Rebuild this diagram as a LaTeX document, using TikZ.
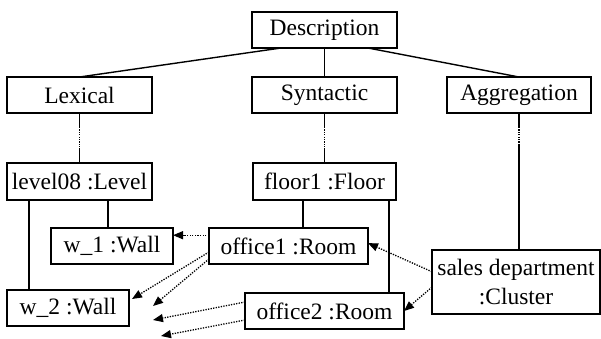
\documentclass[tikz,border=0pt]{standalone}
\usepackage{fontspec}
\setmainfont{Liberation Serif}
\usetikzlibrary{arrows.meta,calc}
\begin{document}
\begin{tikzpicture}[x=1pt,y=-1pt,
  box/.style={draw,line width=1.4pt,inner sep=0pt,outer sep=0pt,font=\fontsize{23.5}{29}\selectfont},
  conn/.style={line width=1.4pt},
  dotline/.style={line width=1.3pt,dash pattern=on 1.2pt off 1.2pt},
  arr/.style={line width=1.3pt,dash pattern=on 1.3pt off 1.3pt,-{Triangle[length=10pt,width=8pt]}}]
\useasboundingbox (0,0) rectangle (601,338);
% nodes
\node[box,minimum width=145,minimum height=36] (desc) at (324.5,30) {Description};
\node[box,minimum width=145,minimum height=36] (lex) at (79.5,95) {Lexical};
\node[box,minimum width=145,minimum height=36] (syn) at (324.5,95) {Syntactic};
\node[box,minimum width=144,minimum height=36] (agg) at (519,95) {Aggregation};
\node[box,minimum width=145,minimum height=37] (lev) at (79.5,181.5) {level08 :Level};
\node[box,minimum width=143,minimum height=37] (flo) at (324.5,181.5) {floor1 :Floor};
\node[box,minimum width=122,minimum height=36] (w1) at (112,246) {w\_1 :Wall};
\node[box,minimum width=159,minimum height=36] (o1) at (288.5,246) {office1 :Room};
\node[box,minimum width=122,minimum height=36] (w2) at (68,308) {w\_2 :Wall};
\node[box,minimum width=159,minimum height=36] (o2) at (324.5,311) {office2 :Room};
\node[box,minimum width=168,minimum height=64,align=center] (sal) at (516,282) {sales department\\:Cluster};
% tree lines
\draw[conn] ($(desc.south west)!0.2!(desc.south east)$) -- (lex.north);
\draw[conn] (desc.south) -- (syn.north);
\draw[conn] ($(desc.south west)!0.8!(desc.south east)$) -- (agg.north);
% vertical links with dotted middle
\draw[conn] (lex.south) -- ++(0,14) coordinate (la);
\draw[dotline] (la) -- ++(0,21) coordinate (lb);
\draw[conn] (lb) -- (lev.north);
\draw[conn] (syn.south) -- ++(0,14) coordinate (sa);
\draw[dotline] (sa) -- ++(0,21) coordinate (sb);
\draw[conn] (sb) -- (flo.north);
\draw[conn] (agg.south) -- ++(0,14) coordinate (aa);
\draw[dotline] (aa) -- ++(0,18) coordinate (ab);
\draw[conn] (ab) -- (ab |- sal.north);
% part-of lines
\draw[conn] ($(lev.south west)!0.697!(lev.south east)$) coordinate (lv1) -- (lv1 |- w1.north);
\draw[conn] ($(lev.south west)!0.152!(lev.south east)$) coordinate (lv2) -- (lv2 |- w2.north);
\draw[conn] ($(flo.south west)!0.35!(flo.south east)$) coordinate (fl1) -- (fl1 |- o1.north);
\draw[conn] ($(flo.south west)!0.951!(flo.south east)$) coordinate (fl2) -- (fl2 |- o2.north);
% dotted arrows
\coordinate (t2) at (132,299);
\coordinate (t3) at (153,306);
\coordinate (t4) at (153,320);
\coordinate (t5) at (161,336);
\draw[arr] ($(o1.north west)!0.2!(o1.south west)$) coordinate (s1) -- (s1 -| w1.east);
\draw[arr] ($(o1.north west)!0.667!(o1.south west)$) -- (t2);
\draw[arr] ($(o1.north west)!0.86!(o1.south west)$) -- (t3);
\draw[arr] ($(o2.north west)!0.25!(o2.south west)$) -- (t4);
\draw[arr] ($(o2.north west)!0.75!(o2.south west)$) -- (t5);
\draw[arr] ($(sal.north west)!0.34!(sal.south west)$) -- ($(o1.north east)!0.42!(o1.south east)$);
\draw[arr] ($(sal.north west)!0.58!(sal.south west)$) -- (o2.east);
\end{tikzpicture}
\end{document}
